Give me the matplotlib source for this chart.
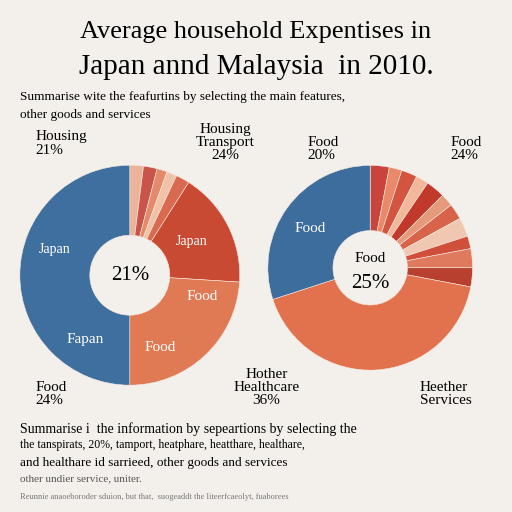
import matplotlib.pyplot as plt

# left pie (clockwise from top)
left_vals = [2, 2, 1.5, 1.5, 2, 17, 24, 50]
left_cols = ['#e9b49a', '#c9544a', '#e48a6a', '#f0c2a8', '#d9694f', '#c94a32', '#e07a55', '#3f6f9e']
# right pie (clockwise from top)
right_vals = [3, 2, 2.5, 2, 3, 2, 2.5, 3, 2, 3, 3, 42, 30]
right_cols = ['#c9443a', '#e88a6a', '#d4553f', '#f2b89c', '#c0392b', '#e59a7c', '#d6634a',
              '#f0c7b0', '#cf4f3a', '#e07a5c', '#b8402f', '#e2724d', '#3c6d9c']

bg = '#f3f0eb'
sf = 'Liberation Serif'
fig = plt.figure(figsize=(5.12, 5.12), dpi=100, facecolor=bg)

fig.text(0.5, 0.925, "Average household Expentises in", ha='center', fontsize=19, family=sf)
fig.text(0.5, 0.855, "Japan annd Malaysia  in 2010.", ha='center', fontsize=21, family=sf)
fig.text(0.04, 0.805, "Summarise wite the feafurtins by selecting the main features,", fontsize=9.5, family=sf)
fig.text(0.04, 0.77, "other goods and services", fontsize=9.5, family=sf)

axL = fig.add_axes([0.029, 0.238, 0.449, 0.449])
axR = fig.add_axes([0.514, 0.268, 0.418, 0.418])
for ax, vals, cols in [(axL, left_vals, left_cols), (axR, right_vals, right_cols)]:
    ax.set_facecolor(bg)
    ax.pie(vals, colors=cols, startangle=90, counterclock=False, radius=1.1,
           wedgeprops=dict(width=0.7, edgecolor='#f6e8e0', linewidth=0.4))
    ax.set_xlim(-1.15, 1.15)
    ax.set_ylim(-1.15, 1.15)
    ax.set_aspect('equal')

axL.text(0, 0, "21%", ha='center', va='center', fontsize=15, family=sf)
axL.text(-0.75, 0.22, "Japan", ha='center', color='white', fontsize=10, family=sf)
axL.text(-0.45, -0.68, "Fapan", ha='center', color='white', fontsize=11, family=sf)
axL.text(0.62, 0.3, "Japan", ha='center', color='white', fontsize=10, family=sf)
axL.text(0.72, -0.25, "Food", ha='center', color='white', fontsize=11, family=sf)
axL.text(0.3, -0.76, "Food", ha='center', color='white', fontsize=11, family=sf)
axR.text(0, 0.1, "Food", ha='center', va='center', fontsize=11, family=sf)
axR.text(0, -0.17, "25%", ha='center', va='center', fontsize=15, family=sf)
axR.text(-0.65, 0.38, "Food", ha='center', color='white', fontsize=11, family=sf)

fig.text(0.07, 0.7, "Housing\n21%", ha='left', fontsize=11, family=sf, linespacing=1.1)
fig.text(0.44, 0.69, "Housing\nTransport\n24%", ha='center', fontsize=11, family=sf, linespacing=1.0)
fig.text(0.6, 0.69, "Food\n20%", ha='left', fontsize=11, family=sf, linespacing=1.0)
fig.text(0.88, 0.69, "Food\n24%", ha='left', fontsize=11, family=sf, linespacing=1.0)
fig.text(0.07, 0.21, "Food\n24%", ha='left', fontsize=11, family=sf, linespacing=1.0)
fig.text(0.52, 0.21, "Hother\nHealthcare\n36%", ha='center', fontsize=11, family=sf, linespacing=1.0)
fig.text(0.82, 0.21, "Heether\nServices", ha='left', fontsize=11, family=sf, linespacing=1.0)

fig.text(0.04, 0.155, "Summarise i  the information by sepeartions by selecting the", fontsize=10, family=sf)
fig.text(0.04, 0.125, "the tanspirats, 20%, tamport, heatphare, heatthare, healthare,", fontsize=8.5, family=sf)
fig.text(0.04, 0.09, "and healthare id sarrieed, other goods and services", fontsize=9.5, family=sf)
fig.text(0.04, 0.06, "other undier service, uniter.", fontsize=8, family=sf, color='#555555')
fig.text(0.04, 0.025, "Reunnie anaoeboroder sduion, but that,  suogeaddt the liteerfcaeolyt, fuaborees", fontsize=6, family=sf, color='#777777')

fig.savefig('out.png', dpi=100, facecolor=bg)
